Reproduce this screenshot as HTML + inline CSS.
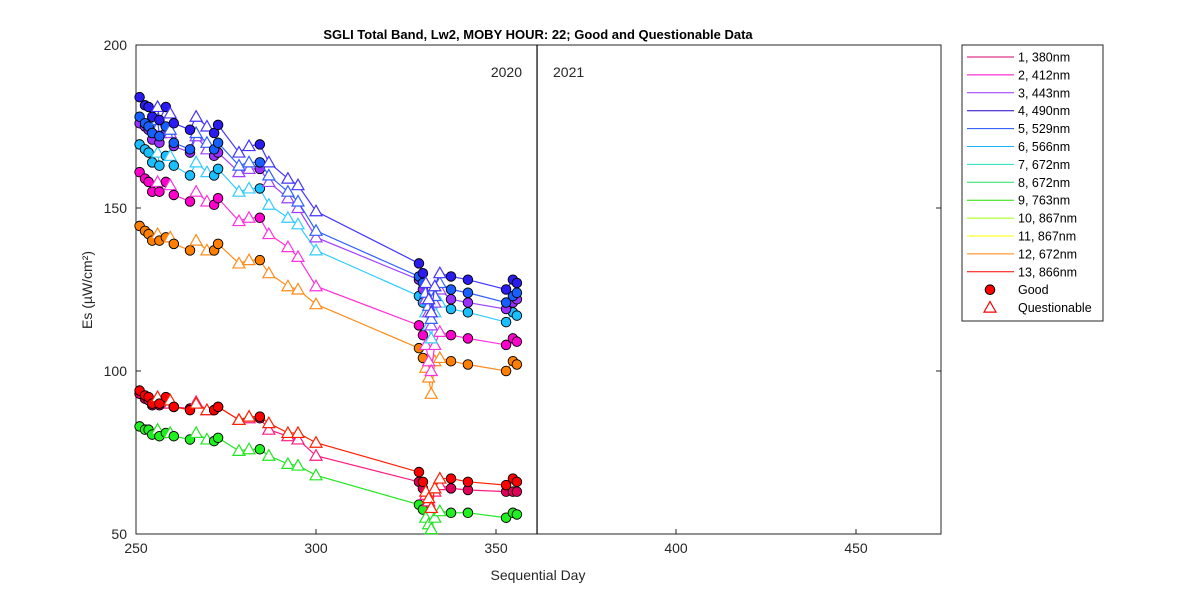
<!DOCTYPE html>
<html><head><meta charset="utf-8"><style>
body{margin:0;background:#fff;}
svg{font-family:"Liberation Sans",sans-serif;}
</style></head><body>
<svg id="chart" width="1200" height="600" xmlns="http://www.w3.org/2000/svg">
<rect width="1200" height="600" fill="#fff"/>
<text x="538" y="39" font-size="13" font-weight="bold" text-anchor="middle">SGLI Total Band,  Lw2, MOBY HOUR: 22;  Good and Questionable Data</text>
<rect x="136" y="45" width="805" height="489" fill="#fff" stroke="#262626"/>
<g id="axes"></g>
<g id="series"></g>
<text x="538" y="580" font-size="14" text-anchor="middle" fill="#262626">Sequential Day</text>
<text transform="translate(92,290) rotate(-90)" font-size="14" text-anchor="middle" fill="#262626">Es (µW/cm²)</text>
<g id="legend"></g>
</svg>
<script>
const days=[251,252.5,253.5,254.5,256,256.5,258.3,259.5,260.5,265,266.7,269.7,271.7,272.8,278.6,281.4,284.4,286.9,292.2,295,300,328.6,329.7,330.5,331.3,332,333,334.4,337.5,342.2,352.8,354.7,355.8];
const flags=["G","G","G","G","Q","G","G","Q","G","G","Q","Q","G","G","Q","Q","G","Q","Q","Q","Q","G","G","Q","Q","Q","Q","Q","G","G","G","G","G"];
const s4=[184,181.5,181,178,181,177,181,179,176,174,178,175,173,175.5,167,169,169.5,164,159,157,149,133,130,127,122,118,126,130,129,128,125,128,127];
const s5=[178,176,175,173,177,172,175,174,170,168,173,170,168,170,163,164,164,160,155,152,143,129,127,124,120,116,123,127,125,124,121,123,124];
const s3=[176,175,174,171,175,170,173,173,169,167,172,168,166,167,161,162,162,158,153,150,141,128,125,122,118,114,121,125,122,121,119,121,122];
const s6=[169.5,168,167,164,167,163,166,166,163,160,164,161,160,162,155,156,156,151,147,145,137,123,121,118,114,110,118,121,119,118,115,118,117];
const s2=[161,159,158,155,158,155,158,157,154,152,155,152,151,153,146,147,147,142,138,135,126,114,111,108,103,100,108,112,111,110,108,110,109];
const s12=[144.5,143,142,140,142,140,141,141,139,137,140,137,137,139,133,134,134,130,126,125,120.5,107,104,101,98,93,103,104,103,102,100,103,102];
const s13=[94,92.5,92,90,92,90,92,91,89,88,90,88,88,89,85,86,86,84,81,81,78,69,66,63,61,58,64,67,67,66,65,67,66];
const s1=[93,91.5,91,89.5,91,89.5,91,90,89,88.5,90.5,88,88,89,85,85.5,85.5,82,80,79,74,66,64,62,60,58,63,65,64,63.5,63,63,63];
const s9=[83,82,82,80.5,82,80,81,81,80,79,81,79,78.5,79.5,75.5,76,76,74,71.5,71,68,59,57.5,55,53,51.5,55,57,56.5,56.5,55,56.5,56];
const xTicks=[250,300,350,400,450];
const yTicks=[50,100,150,200];
const legendLabels=["1, 380nm","2, 412nm","3, 443nm","4, 490nm","5, 529nm","6, 566nm","7, 672nm","8, 672nm","9, 763nm","10, 867nm","11, 867nm","12, 672nm","13, 866nm"];
const legendColors=["#d4006a","#ff00cc","#9a30ff","#2000cc","#1a50ff","#17b0ff","#1de0c0","#22e060","#20e000","#a0ff00","#ffff00","#ff8000","#ff0000"];
const NS="http://www.w3.org/2000/svg";
const X=d=>136+(d-250)*3.6;
const Y=v=>534-(v-50)*3.26;
function mk(t,a,p){const e=document.createElementNS(NS,t);for(const k in a)e.setAttribute(k,a[k]);p.appendChild(e);return e;}
const axes=document.getElementById('axes');
xTicks.forEach(t=>{
 const l=mk('line',{x1:X(t),x2:X(t),y1:534,y2:529,stroke:'#262626'},axes);
 
 
 const tx=mk('text',{x:X(t),y:553,'font-size':14,'text-anchor':'middle',fill:'#262626'},axes);tx.textContent=t;
 
 
});
yTicks.forEach(t=>{
 const l=mk('line',{x1:136,x2:141,y1:Y(t),y2:Y(t),stroke:'#262626'},axes);
 
 
 const l2=mk('line',{x1:936,x2:941,y1:Y(t),y2:Y(t),stroke:'#262626'},axes);
 
 
 const tx=mk('text',{x:127,y:Y(t)+5,'font-size':14,'text-anchor':'end',fill:'#262626'},axes);tx.textContent=t;
 
 
});
const yl=mk('line',{x1:X(361.4),x2:X(361.4),y1:45,y2:534,stroke:'#000','stroke-width':1.2},axes);


const y1=mk('text',{x:522,y:77,'font-size':14,'text-anchor':'end',fill:'#262626'},axes);y1.textContent='2020';


const y2=mk('text',{x:553,y:77,'font-size':14,fill:'#262626'},axes);y2.textContent='2021';


const series=[
 [s9,'#22e622','#20f020','band-9-763nm'],
 [s1,'#ff1a80','#e0005a','band-1-380nm'],
 [s13,'#ff2000','#ff0000','band-13-866nm'],
 [s12,'#ff8c1a','#ff8000','band-12-672nm'],
 [s2,'#ff33dd','#ff00cc','band-2-412nm'],
 [s6,'#33ccff','#19bfff','band-6-566nm'],
 [s3,'#a040ff','#9a30ff','band-3-443nm'],
 [s5,'#3060ff','#1660ff','band-5-529nm'],
 [s4,'#4433ff','#2a1bee','band-4-490nm']
];
const sg=document.getElementById('series');
series.forEach(([vals,lc,mc,name])=>{
 const g=mk('g',{},sg);
 
 
 const pl=mk('polyline',{points:vals.map((v,i)=>X(days[i])+','+Y(v)).join(' '),fill:'none',stroke:lc,'stroke-width':1.2},g);
 
 
 vals.forEach((v,i)=>{
  const x=X(days[i]),y=Y(v);let m;
  if(flags[i]==='G'){m=mk('circle',{cx:x,cy:y,r:4.8,fill:mc,stroke:'#000','stroke-width':0.9},g);}
  else{m=mk('polygon',{points:`${x},${y-6} ${x-6},${y+4.5} ${x+6},${y+4.5}`,fill:'#fff',stroke:lc,'stroke-width':1.2},g);}
  
  
 });
});
const lg=document.getElementById('legend');
mk('rect',{x:962,y:45,width:141,height:276,fill:'#fff',stroke:'#262626'},lg);
legendLabels.forEach((lab,i)=>{
 const y=57+i*17.9;
 const l=mk('line',{x1:967,x2:1014,y1:y,y2:y,stroke:legendColors[i]},lg);
 
 
 const t=mk('text',{x:1018,y:y+4.5,'font-size':12.5,fill:'#000'},lg);t.textContent=lab;
 
 
});
const gy=57+13*17.9;
const gc=mk('circle',{cx:990,cy:gy,r:4.8,fill:'#ff0000',stroke:'#000'},lg);


const gt=mk('text',{x:1018,y:gy+4.5,'font-size':12.5},lg);gt.textContent='Good';


const qy=57+14*17.9;
const qm=mk('polygon',{points:`990,${qy-6} 984,${qy+4.5} 996,${qy+4.5}`,fill:'#fff',stroke:'#ff0000','stroke-width':1.2},lg);


const qt=mk('text',{x:1018,y:qy+4.5,'font-size':12.5},lg);qt.textContent='Questionable';


</script>
</body></html>
